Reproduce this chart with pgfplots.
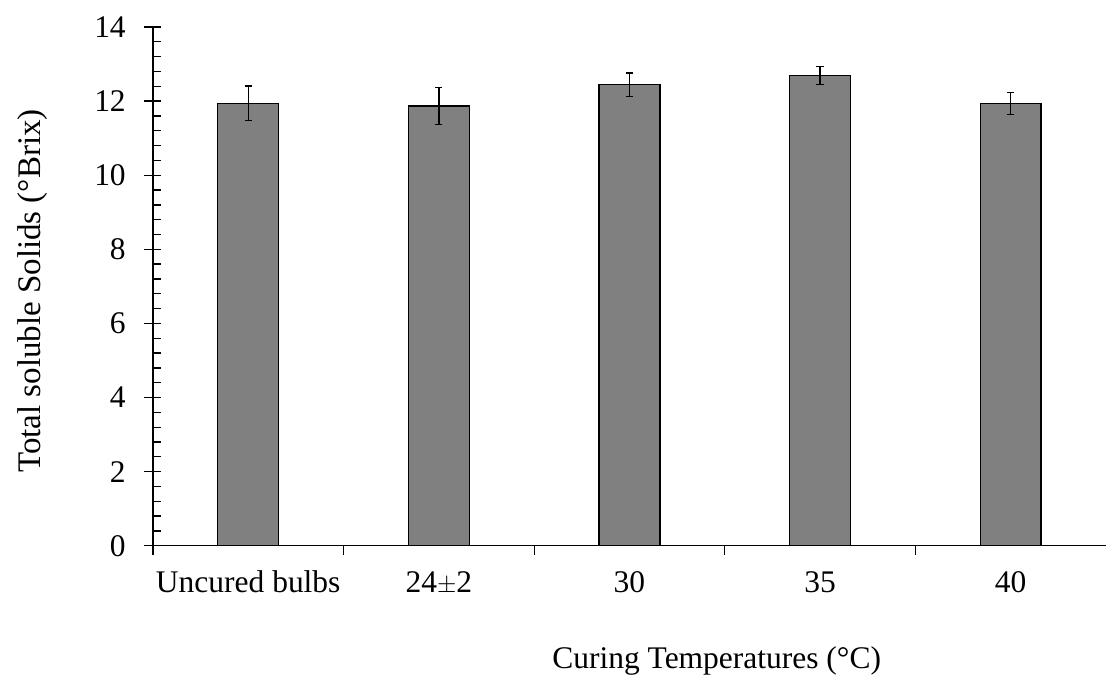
\documentclass[border=0pt]{standalone}
\usepackage{fontspec}
\setmainfont{Liberation Serif}
\usepackage{pgfplots}
\pgfplotsset{compat=1.18}
\begin{document}
\fontsize{31.5}{37}\selectfont
\begin{tikzpicture}
\begin{axis}[name=ax, scale only axis, width=953.5pt, height=519pt,
  xmin=-0.5, xmax=4.5, ymin=0, ymax=14,
  axis lines*=left,
  axis line style={line width=1.3pt, black},
  every tick/.style={line width=1.3pt, black},
  font=\fontsize{31.5}{37}\selectfont,
  /pgf/number format/assume math mode=true,
  tick align=outside, major tick length=9pt,
  xtick={-0.5,0.5,1.5,2.5,3.5}, xticklabels={},
  extra x ticks={0,1,2,3,4},
  extra x tick labels={Uncured bulbs,24$\pm$2,30,35,40},
  extra x tick style={major tick length=0pt},
  xticklabel style={anchor=base, inner sep=0pt, yshift=-47pt},
  ytick={0,2,...,14},
  extra y ticks={0,0.4,0.8,1.2,1.6,2,2.4,2.8,3.2,3.6,4,4.4,4.8,5.2,5.6,6,6.4,6.8,7.2,7.6,8,8.4,8.8,9.2,9.6,10,10.4,10.8,11.2,11.6,12,12.4,12.8,13.2,13.6,14},
  extra y tick labels={},
  extra y tick style={tick align=inside, major tick length=7.6pt},
  yticklabel style={anchor=east, inner sep=0pt, xshift=-18pt},
  ylabel={Total soluble Solids (°Brix)},
  ylabel style={at={(axis description cs:-0.1175,0.491)}, anchor=base, rotate=0, font=\fontsize{33}{38}\selectfont},
  xlabel={Curing Temperatures (°C)},
  xlabel style={at={(axis description cs:0.5915,-0.2370)}, anchor=base},
  ybar, bar width=61pt,
]
\addplot[fill=black!50, draw=black, line width=1.4pt,
  error bars/.cd, y dir=both, y explicit,
  error bar style={line width=1.3pt, black, solid},
  error mark options={rotate=90, mark size=3.6pt, line width=1.3pt, black}]
  coordinates {
  (0,11.94) +- (0,0.47)
  (1,11.87) +- (0,0.50)
  (2,12.44) +- (0,0.32)
  (3,12.69) +- (0,0.24)
  (4,11.93) +- (0,0.30)
};
\end{axis}
\pgfresetboundingbox
\path[use as bounding box] ([xshift=-153pt,yshift=-135pt]ax.south west) rectangle ([xshift=953.5pt,yshift=546pt]ax.south west);
\end{tikzpicture}
\end{document}
